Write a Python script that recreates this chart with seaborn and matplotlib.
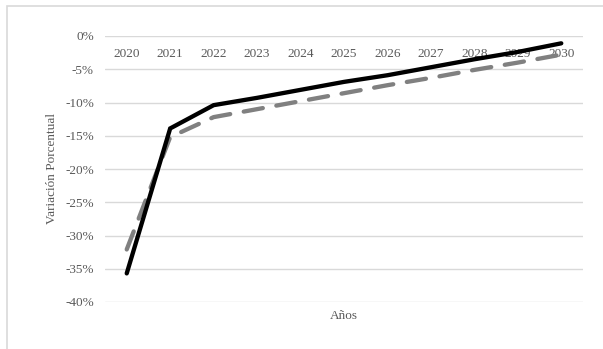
import matplotlib
matplotlib.use("Agg")
import matplotlib.pyplot as plt
import seaborn as sns
import pandas as pd
from matplotlib.patches import Rectangle
from matplotlib.ticker import FuncFormatter

years = ["2020", "2021", "2022", "2023", "2024", "2025", "2026", "2027", "2028", "2029", "2030"]
serie_a = [-35.7, -13.9, -10.4, -9.3, -8.1, -6.9, -5.9, -4.7, -3.5, -2.4, -1.1]
serie_b = [-32.1, -15.2, -12.2, -11.0, -9.8, -8.6, -7.4, -6.3, -5.1, -4.0, -2.8]
y_ticks = [0, -5, -10, -15, -20, -25, -30, -35, -40]

sns.set_theme(style="white")
plt.rcParams["font.family"] = ["Liberation Serif", "DejaVu Serif"]

fig = plt.figure(figsize=(6.03, 3.49), dpi=100)
fig.patch.set_facecolor("white")
fig.patches.append(Rectangle((7 / 603, -0.1), 1.2, 1 - 6 / 349 + 0.1, transform=fig.transFigure,
                             fill=False, edgecolor="#d9d9d9", linewidth=1.2, zorder=0))

ax = fig.add_axes([105 / 603, 1 - 302 / 349, (583 - 105) / 603, (302 - 36) / 349])
ax.set_facecolor("none")

df_a = pd.DataFrame({"x": range(len(years)), "y": serie_a})
df_b = pd.DataFrame({"x": range(len(years)), "y": serie_b})

sns.lineplot(data=df_b, x="x", y="y", ax=ax, color="#808080", linewidth=3.1,
             linestyle=(0, (4.5, 3.2)), dash_capstyle="round", zorder=3)
sns.lineplot(data=df_a, x="x", y="y", ax=ax, color="#000000", linewidth=3.1,
             solid_capstyle="round", solid_joinstyle="miter", zorder=4)

ax.set_xlim(-0.5, len(years) - 0.5)
ax.set_ylim(-40, 0)
ax.set_yticks(y_ticks)
ax.yaxis.set_major_formatter(FuncFormatter(lambda v, p: f"{int(round(v))}%"))
ax.grid(axis="y", color="#d9d9d9", linewidth=1.0)
ax.grid(axis="x", visible=False)
for s in ax.spines.values():
    s.set_visible(False)

ax.set_xticks(range(len(years)))
ax.set_xticklabels(years)
ax.xaxis.set_ticks_position("top")
ax.tick_params(axis="x", top=False, bottom=False, labeltop=True, labelbottom=False,
               pad=-23.5, labelsize=9.5, labelcolor="#595959")
ax.tick_params(axis="y", left=False, pad=2, labelsize=9.5, labelcolor="#595959")

ax.set_xlabel("Años", fontsize=9.5, color="#595959", labelpad=6)
ax.xaxis.set_label_position("bottom")
ax.set_ylabel("Variación Porcentual", fontsize=9.5, color="#595959", labelpad=5)

fig.savefig("out.png", dpi=100, facecolor="white")
